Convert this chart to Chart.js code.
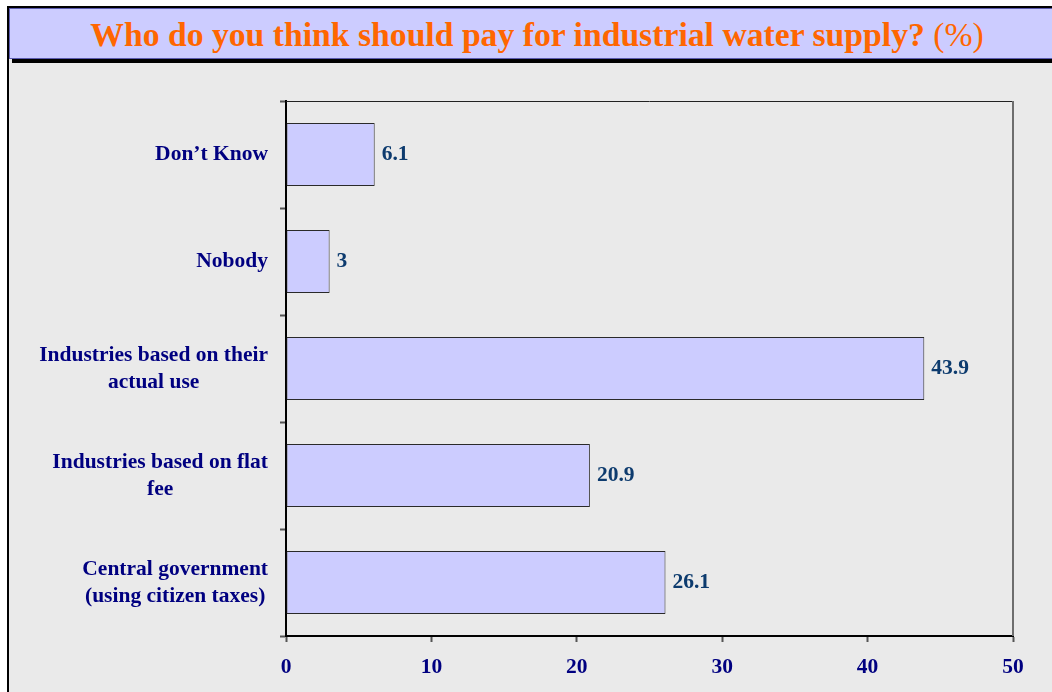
<!DOCTYPE html>
<html>
<head>
<meta charset="utf-8">
<script src="https://cdn.jsdelivr.net/npm/chart.js@4.4.0/dist/chart.umd.min.js"></script>
<style>
  html, body { margin: 0; padding: 0; background: #fff; overflow: hidden; }
  #panel { position: absolute; left: 7px; top: 6px; width: 1100px; height: 720px; box-sizing: border-box;
           border: 2px solid #000; background: #eaeaea; }
  #title { position: absolute; left: 9px; top: 8px; width: 1056px; height: 51px; box-sizing: border-box;
           background: #ccccff; border: 1px solid #5b5bb0; box-shadow: 3px 4px 0 #000;
           text-align: center; font-family: 'Liberation Serif', 'Times New Roman', serif;
           font-size: 33.7px; line-height: 51px; color: #ff6600; white-space: nowrap; }
  #title b { font-weight: bold; }
  #title span { font-weight: normal; }
  #chart { position: absolute; left: 0; top: 0; }
</style>
</head>
<body>
<div id="panel"></div>
<div id="title"><b>Who do you think should pay for industrial water supply?</b><span> (%)</span></div>
<canvas id="chart" width="1052" height="692"></canvas>
<script>
// answers, top to bottom as they appear on the chart
const categories = [
    "Don’t Know",
    "Nobody",
    ["Industries based on their", "actual use"],
    ["Industries based on flat", "fee"],
    ["Central government", "(using citizen taxes)"]
];
const shares = [6.1, 3, 43.9, 20.9, 26.1];
const shareLabels = ['6.1', '3', '43.9', '20.9', '26.1'];
const xTicks = [0, 10, 20, 30, 40, 50];

const FONT = "'Liberation Serif', 'Times New Roman', serif";

// top and right edges of the plot box
const plotFrame = {
    id: 'plotFrame',
    afterDraw(chart) {
        const { ctx, chartArea: a } = chart;
        ctx.save();
        ctx.strokeStyle = '#222';
        ctx.lineWidth = 1;
        ctx.beginPath();
        ctx.moveTo(a.left, a.top + 0.5);
        ctx.lineTo(a.right, a.top + 0.5);
        ctx.stroke();
        ctx.strokeStyle = '#6e6e6e';
        ctx.lineWidth = 2;
        ctx.beginPath();
        ctx.moveTo(a.right, a.top);
        ctx.lineTo(a.right, a.bottom);
        ctx.stroke();
        ctx.restore();
    }
};

// category names: block right aligned, lines centred on each other
const categoryLabels = {
    id: 'categoryLabels',
    afterDraw(chart) {
        const { ctx, chartArea } = chart;
        const yScale = chart.scales.y;
        ctx.save();
        ctx.font = 'bold 21.5px ' + FONT;
        ctx.fillStyle = '#000080';
        ctx.textAlign = 'center';
        ctx.textBaseline = 'middle';
        categories.forEach((c, i) => {
            const lines = [].concat(c);
            const w = Math.max(...lines.map(l => ctx.measureText(l).width));
            const cx = chartArea.left - 18 - w / 2;
            const cy = yScale.getPixelForValue(i);
            lines.forEach((l, k) => {
                ctx.fillText(l, cx, cy + (k - (lines.length - 1) / 2) * 27);
            });
        });
        ctx.restore();
    }
};

// value at the end of each bar
const valueLabels = {
    id: 'valueLabels',
    afterDatasetsDraw(chart) {
        const { ctx } = chart;
        ctx.save();
        ctx.font = 'bold 21.5px ' + FONT;
        ctx.fillStyle = '#0d3b6e';
        ctx.textAlign = 'left';
        ctx.textBaseline = 'middle';
        chart.getDatasetMeta(0).data.forEach((bar, i) => {
            ctx.fillText(shareLabels[i], bar.x + 7, bar.y);
        });
        ctx.restore();
    }
};

new Chart(document.getElementById('chart'), {
    type: 'bar',
    data: {
        labels: categories,
        datasets: [{
            data: shares,
            backgroundColor: '#ccccff',
            borderColor: '#2a2a2a',
            borderWidth: 1,
            borderSkipped: false,
            categoryPercentage: 1,
            barPercentage: 0.59
        }]
    },
    options: {
        indexAxis: 'y',
        responsive: false,
        animation: false,
        layout: { padding: { top: 101, right: 39, left: 0, bottom: 0 } },
        plugins: {
            legend: { display: false },
            title: { display: false },
            tooltip: { enabled: false }
        },
        scales: {
            y: {
                grid: { offset: true, drawOnChartArea: false, tickLength: 6, tickColor: '#555', tickWidth: 2 },
                border: { color: '#000', width: 2 },
                ticks: { display: false },
                afterFit: s => { s.width = 286; }
            },
            x: {
                min: 0,
                max: 50,
                afterBuildTicks: s => { s.ticks = xTicks.map(v => ({ value: v })); },
                grid: { drawOnChartArea: false, tickLength: 6, tickColor: '#555', tickWidth: 2 },
                border: { color: '#000', width: 2 },
                ticks: {
                    color: '#000080',
                    padding: 13,
                    font: { family: FONT, size: 21.5, weight: 'bold' }
                },
                afterFit: s => { s.height = 56; }
            }
        }
    },
    plugins: [plotFrame, categoryLabels, valueLabels]
});
</script>
</body>
</html>
